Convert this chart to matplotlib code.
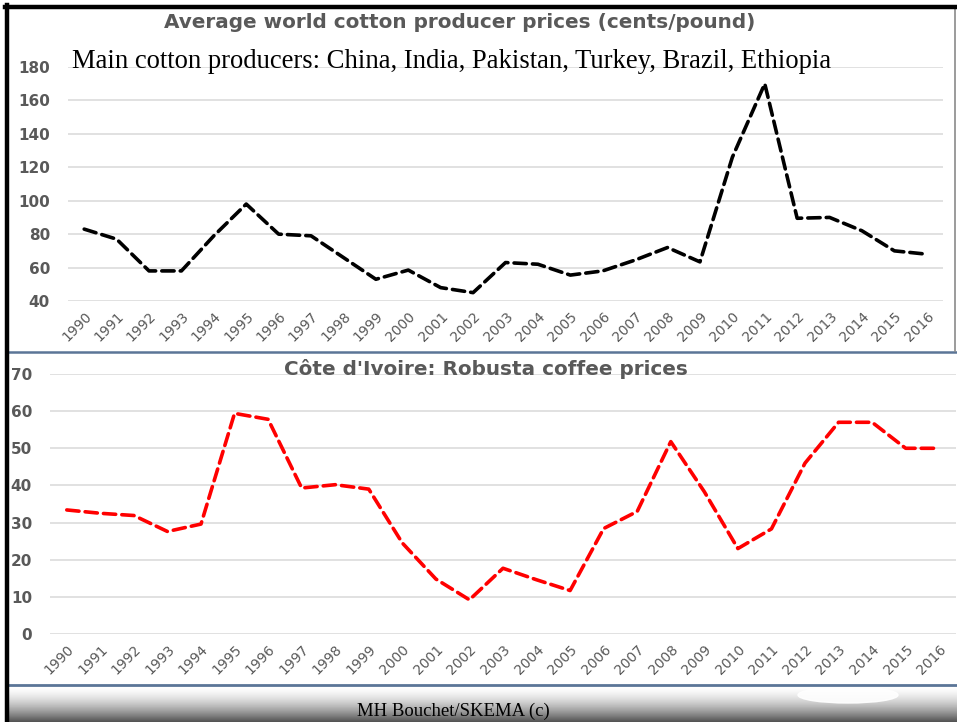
import numpy as np
import matplotlib.pyplot as plt
from matplotlib.patches import Ellipse

# Categories and series
years = ["1990", "1991", "1992", "1993", "1994", "1995", "1996", "1997", "1998",
         "1999", "2000", "2001", "2002", "2003", "2004", "2005", "2006", "2007",
         "2008", "2009", "2010", "2011", "2012", "2013", "2014", "2015", "2016"]
cotton = [83, 77, 58, 58, 79, 98, 80, 79, 66, 53, 58.5, 48, 45, 63, 62, 55.5,
          58, 64.5, 72, 63.4, 126, 170, 89.5, 90, 82, 70, 68]
coffee = [33.4, 32.5, 31.9, 27.6, 29.6, 59.4, 57.8, 39.3, 40.2, 39, 24.5, 14.8,
          9.2, 17.7, 14.6, 11.7, 28.4, 33, 51.8, 38.3, 23, 28.3, 46, 57, 57, 50, 50]
cotton_ticks = [40, 60, 80, 100, 120, 140, 160, 180]
coffee_ticks = [0, 10, 20, 30, 40, 50, 60, 70]

W, H = 957, 722
GREY = "#595959"
GRID = "#d9d9d9"
FRAME = "#5b7597"


def px_axes(fig, x0, y0, x1, y1, **kw):
    # axes placed by pixel box (top-left origin)
    return fig.add_axes([x0 / W, 1 - y1 / H, (x1 - x0) / W, (y1 - y0) / H], **kw)


def style_chart(ax, values, ticks, color):
    x = np.arange(len(years))
    ax.plot(x, values, color=color, lw=2.6, linestyle=(0, (3.4, 1.7)),
            dash_capstyle="round", zorder=3)
    ax.set_xlim(-0.5, len(years) - 0.5)
    ax.set_ylim(ticks[0], ticks[-1])
    ax.set_yticks(ticks)
    ax.set_xticks(x)
    ax.set_xticklabels(years, rotation=45, ha="right", rotation_mode="anchor",
                       fontsize=10, color=GREY)
    for lab in ax.get_yticklabels():
        lab.set_fontweight("bold")
        lab.set_fontsize(11)
        lab.set_color(GREY)
    ax.tick_params(length=0, axis="y", pad=13)
    ax.tick_params(length=0, axis="x", pad=6)
    ax.grid(axis="y", color=GRID, lw=1.1)
    ax.set_axisbelow(True)
    for s in ax.spines.values():
        s.set_visible(False)
    ax.set_facecolor("none")


fig = plt.figure(figsize=(W / 100, H / 100), dpi=100)

# background layer: frame lines and footer band
bg = fig.add_axes([0, 0, 1, 1], zorder=0)
bg.set_xlim(0, W)
bg.set_ylim(H, 0)
bg.set_axis_off()

grad = np.linspace(0, 1, 100) ** 1.6
band = (1 - 0.68 * grad)[:, None] * np.ones((1, 2))
bg.imshow(band, cmap="gray", vmin=0, vmax=1, aspect="auto",
          extent=(9, W, H, 686), interpolation="bilinear", zorder=1)
bg.add_patch(Ellipse((848, 695), 100, 16, color="white", alpha=0.9, zorder=2))
bg.text(453, 711, "MH Bouchet/SKEMA (c)", family="Liberation Serif",
        fontsize=13.5, ha="center", va="center", color="black", zorder=3)

bg.plot([8, W], [352, 352], color=FRAME, lw=1.8, zorder=4)
bg.plot([8, W], [684.5, 684.5], color=FRAME, lw=2.0, zorder=4)
bg.plot([955, 955], [9, 351], color="#8a8a8a", lw=1.2, zorder=4)
bg.plot([5, W], [7, 7], color="black", lw=3.2, zorder=5)
bg.plot([7, 7], [5, H], color="black", lw=3.2, zorder=5)

# cotton prices
ax1 = px_axes(fig, 68, 67, 943, 301, zorder=2)
style_chart(ax1, cotton, cotton_ticks, "black")
fig.text(460 / W, 1 - 23 / H, "Average world cotton producer prices (cents/pound)",
         fontsize=14.4, fontweight="bold", color=GREY, ha="center", va="center")
fig.text(72 / W, 1 - 61 / H,
         "Main cotton producers: China, India, Pakistan, Turkey, Brazil, Ethiopia",
         family="Liberation Serif", fontsize=19.2, color="black", ha="left",
         va="center", zorder=5)

# coffee prices
ax2 = px_axes(fig, 50, 374, 956, 634, zorder=2)
style_chart(ax2, coffee, coffee_ticks, "#ff0000")
fig.text(486 / W, 1 - 369 / H, "Côte d'Ivoire: Robusta coffee prices",
         fontsize=14.4, fontweight="bold", color=GREY, ha="center", va="center")

fig.savefig("out.png", dpi=100)
